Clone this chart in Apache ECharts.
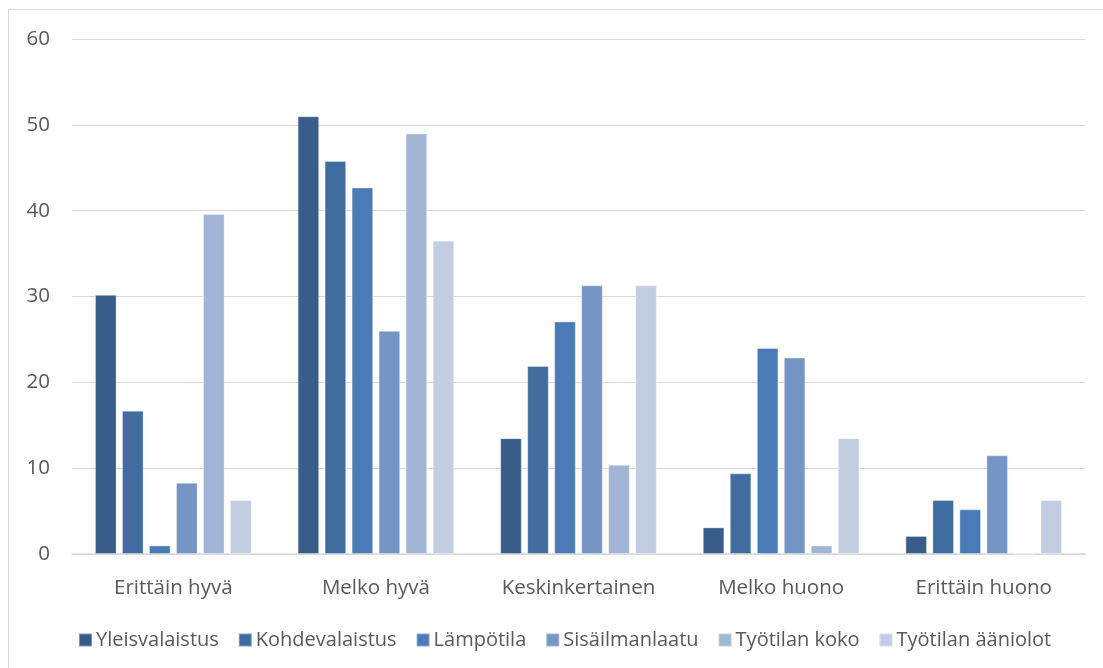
<!DOCTYPE html>
<html>
<head>
<meta charset="utf-8">
<script src="https://cdn.jsdelivr.net/npm/echarts@6/dist/echarts.min.js"></script>
<style>
  html, body { margin: 0; padding: 0; background: #ffffff; }
  #chart { width: 1103px; height: 668px; }
</style>
</head>
<body>
<div id="chart"></div>
<script>
// Rating categories on the x axis
const categories = ['Erittäin hyvä', 'Melko hyvä', 'Keskinkertainen', 'Melko huono', 'Erittäin huono'];

// Share of respondents (%) per indoor-environment factor
const yleisvalaistus = [30.2, 51.0, 13.5, 3.1, 2.1];
const kohdevalaistus = [16.7, 45.8, 21.9, 9.4, 6.3];
const lampotila      = [1.0, 42.7, 27.1, 24.0, 5.2];
const sisailmanlaatu = [8.3, 26.0, 31.3, 22.9, 11.5];
const tyotilanKoko   = [39.6, 49.0, 10.4, 1.0, 0];
const tyotilanAaniolot = [6.3, 36.5, 31.3, 13.5, 6.3];

const seriesNames = ['Yleisvalaistus', 'Kohdevalaistus', 'Lämpötila', 'Sisäilmanlaatu', 'Työtilan koko', 'Työtilan ääniolot'];
const seriesValues = [yleisvalaistus, kohdevalaistus, lampotila, sisailmanlaatu, tyotilanKoko, tyotilanAaniolot];
const seriesColors = ['#385d89', '#416ca0', '#4a7bb6', '#7595c6', '#a2b5d5', '#c3cde2'];

const yTicks = [0, 10, 20, 30, 40, 50, 60];

const FONT = '"Open Sans", Lato, sans-serif';
const FONT_SIZE = 20.5;

const chart = echarts.init(document.getElementById('chart'), null, { renderer: 'canvas' });

chart.setOption({
  backgroundColor: '#ffffff',
  animation: false,
  textStyle: { fontFamily: FONT },
  graphic: [{
    type: 'rect',
    shape: { x: 8.5, y: 9.5, width: 1110, height: 700 },
    style: { fill: 'none', stroke: '#d9d9d9', lineWidth: 1 },
    silent: true
  }],
  grid: { left: 72, right: 18, top: 39, bottom: 114, containLabel: false },
  legend: {
    bottom: 13,
    left: 73,
    itemWidth: 13,
    itemHeight: 13,
    itemGap: 19,
    icon: 'rect',
    textStyle: { color: '#595959', fontSize: 20, fontFamily: FONT, padding: [0, 0, 0, -1] },
    data: seriesNames
  },
  xAxis: {
    type: 'category',
    data: categories,
    axisLine: { show: true, lineStyle: { color: '#d9d9d9', width: 1.5 } },
    axisTick: { show: false },
    axisLabel: { color: '#595959', fontSize: FONT_SIZE, fontFamily: FONT, margin: 24 }
  },
  yAxis: {
    type: 'value',
    min: yTicks[0],
    max: yTicks[yTicks.length - 1],
    interval: 10,
    axisLine: { show: false },
    axisTick: { show: false },
    splitLine: { lineStyle: { color: '#d9d9d9', width: 1 } },
    axisLabel: { color: '#595959', fontSize: FONT_SIZE, fontFamily: FONT, margin: 22 }
  },
  series: seriesNames.map((name, i) => ({
    name: name,
    type: 'bar',
    data: seriesValues[i],
    barGap: '25%',
    barCategoryGap: '22.7%',
    itemStyle: {
      color: seriesColors[i],
      borderColor: 'rgba(255,255,255,0.35)',
      borderWidth: 1
    }
  }))
});
</script>
</body>
</html>
